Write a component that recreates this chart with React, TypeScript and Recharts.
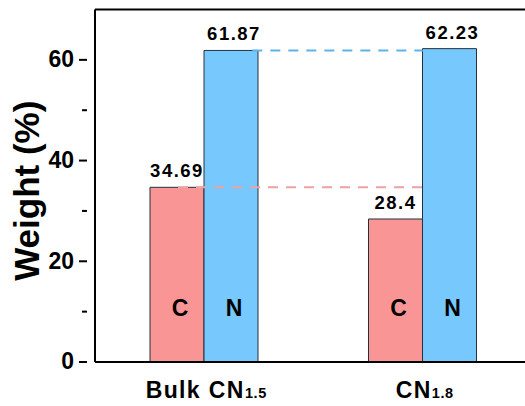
import React from 'react';
import { BarChart, Bar, XAxis, YAxis, LabelList, ReferenceLine } from 'recharts';

const categories = ['Bulk CN1.5', 'CN1.8'];
const categoryMain = ['Bulk CN', 'CN'];
const categorySub = ['1.5', '1.8'];
const carbon = [34.69, 28.4];
const nitrogen = [61.87, 62.23];
const seriesLetters = ['C', 'N'];
const yTicks = [0, 10, 20, 30, 40, 50, 60];
const yLabeled = [0, 20, 40, 60];
const valueLabels = { C: ['34.69', '28.4'], N: ['61.87', '62.23'] };

const data = categories.map((name, i) => ({ name, C: carbon[i], N: nitrogen[i] }));

// dashed connectors: start / end given in band units (0.5 = first category centre)
const connectors = [
  { value: nitrogen[0], from: 0.72, to: 1.5, color: '#5CB3EA' },
  { value: carbon[0], from: 0.38, to: 1.5, color: '#EBA3A3' },
];

const FONT = 'Liberation Sans, Arial, Helvetica, sans-serif';
const PINK = '#FA9595';
const BLUE = '#76C8FD';
const EDGE = '#24313d';

const YTick = (props: any) => {
  const { x, y, payload } = props;
  const v = payload.value;
  const major = yLabeled.includes(v);
  const len = major ? 8 : 5;
  return (
    <g>
      <line x1={x} x2={x - len} y1={y} y2={y} stroke="#000" strokeWidth={2} />
      {major && (
        <text x={x - 13} y={y - 1} dy="0.36em" textAnchor="end" fontFamily={FONT} fontWeight="bold" fontSize={23} fill="#000">
          {v}
        </text>
      )}
    </g>
  );
};

const XTick = (props: any) => {
  const { x, y, index } = props;
  return (
    <text x={x + 2} y={y + 28} textAnchor="middle" fontFamily={FONT} fontWeight="bold" fill="#000">
      <tspan fontSize={23} letterSpacing={1.4}>{categoryMain[index]}</tspan>
      <tspan fontSize={14.5} letterSpacing={0.6}>{categorySub[index]}</tspan>
    </text>
  );
};

const makeTopLabel = (key: 'C' | 'N', shift: number) => (props: any) => {
  const { x, y, width, index } = props;
  return (
    <text x={x + width / 2 + shift} y={y - 10} textAnchor="middle" fontFamily={FONT} fontWeight="bold" fontSize={18.5} letterSpacing={1.5} fill="#000">
      {valueLabels[key][index]}
    </text>
  );
};

const makeLetter = (letter: string) => (props: any) => {
  const { x, y, width, height } = props;
  return (
    <text x={x + width / 2 + 3} y={y + height - 46} textAnchor="middle" fontFamily={FONT} fontWeight="bold" fontSize={23} fill="#000">
      {letter}
    </text>
  );
};

export default function App() {
  return (
    <div style={{ position: 'absolute', left: 0, top: 0, width: 525, height: 406, overflow: 'hidden', background: '#fff' }}>
      <BarChart width={545} height={406} data={data} margin={{ top: 9.5, right: 13, left: 0, bottom: 0 }} barGap={0}>
        <XAxis dataKey="name" type="category" height={44} axisLine={{ stroke: '#000', strokeWidth: 2 }} tickLine={false} tick={<XTick />} interval={0} />
        <YAxis
          width={95}
          domain={[0, 70]}
          ticks={yTicks}
          interval={0}
          axisLine={{ stroke: '#000', strokeWidth: 2 }}
          tickLine={false}
          tick={<YTick />}
          allowDataOverflow
          label={{
            content: (p: any) => {
              const vb = p.viewBox;
              const cx = 26;
              const cy = vb.y + vb.height / 2 + 5;
              return (
                <text x={cx} y={cy} transform={`rotate(-90 ${cx} ${cy})`} textAnchor="middle" dy="0.36em" fontFamily={FONT} fontWeight="bold" fontSize={35} fill="#000">
                  Weight (%)
                </text>
              );
            },
          }}
        />
        <ReferenceLine y={70} stroke="#000" strokeWidth={2} ifOverflow="visible" />
        <Bar dataKey="C" fill={PINK} stroke={EDGE} strokeWidth={1} barSize={54} isAnimationActive={false}>
          <LabelList dataKey="C" content={makeTopLabel('C', 0)} />
          <LabelList dataKey="C" content={makeLetter(seriesLetters[0])} />
        </Bar>
        <Bar dataKey="N" fill={BLUE} stroke={EDGE} strokeWidth={1} barSize={54} isAnimationActive={false}>
          <LabelList dataKey="N" content={makeTopLabel('N', 3)} />
          <LabelList dataKey="N" content={makeLetter(seriesLetters[1])} />
        </Bar>
        {connectors.map((c, i) => (
          <ReferenceLine
            key={i}
            segment={[{ x: categories[0], y: c.value }, { x: categories[1], y: c.value }]}
            ifOverflow="visible"
            shape={(p: any) => {
              const band = p.x2 - p.x1;
              const xs = p.x1 + (c.from - 0.5) * band;
              const xe = p.x1 + (c.to - 0.5) * band;
              return <line x1={xs} x2={xe} y1={p.y1} y2={p.y2} stroke={c.color} strokeWidth={2} strokeDasharray="10 8" />;
            }}
          />
        ))}
      </BarChart>
    </div>
  );
}
